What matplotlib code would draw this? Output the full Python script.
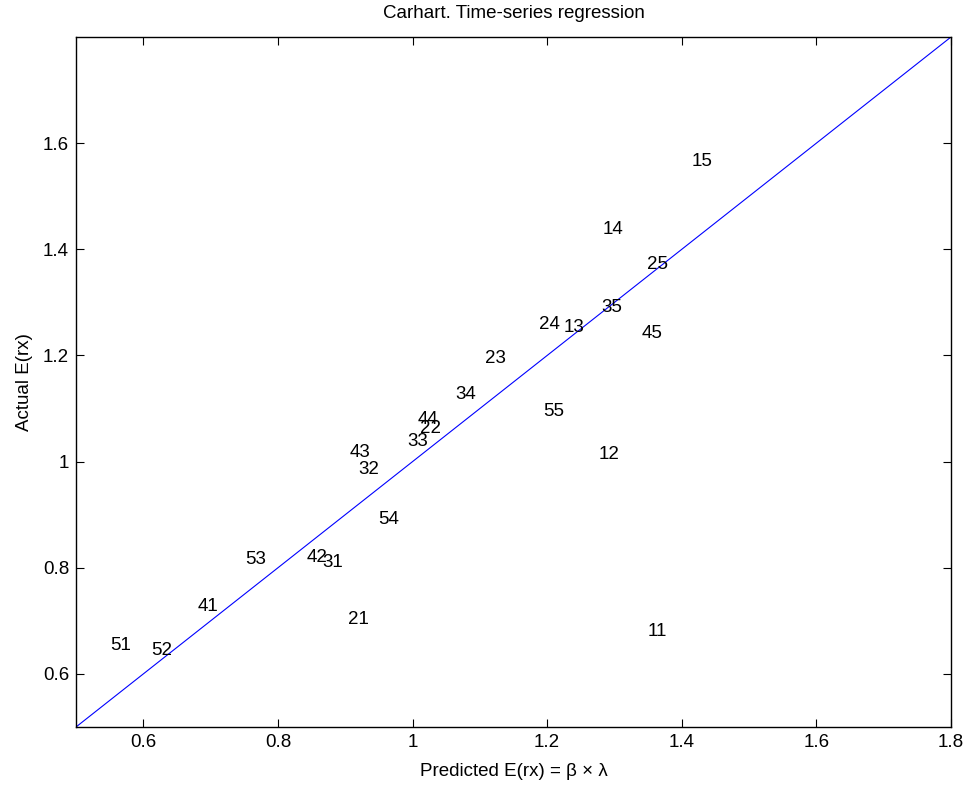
import matplotlib
matplotlib.use("Agg")
import matplotlib.pyplot as plt

plt.rcParams['font.family'] = ['Liberation Sans', 'DejaVu Sans']

# Portfolio labels (size/momentum quintile pairs) with predicted vs actual mean excess returns
labels = ['11', '12', '13', '14', '15',
          '21', '22', '23', '24', '25',
          '31', '32', '33', '34', '35',
          '41', '42', '43', '44', '45',
          '51', '52', '53', '54', '55']
predicted = [1.350, 1.277, 1.224, 1.282, 1.415,
             0.904, 1.011, 1.108, 1.188, 1.348,
             0.866, 0.920, 0.992, 1.063, 1.280,
             0.680, 0.843, 0.906, 1.007, 1.341,
             0.551, 0.611, 0.751, 0.949, 1.194]
actual = [0.683, 1.017, 1.257, 1.442, 1.570,
          0.706, 1.066, 1.198, 1.262, 1.375,
          0.813, 0.989, 1.042, 1.130, 1.294,
          0.730, 0.823, 1.021, 1.083, 1.245,
          0.657, 0.647, 0.819, 0.894, 1.098]

x_limits = [0.5, 1.8]
y_limits = [0.5, 1.8]
x_ticks = [0.6, 0.8, 1.0, 1.2, 1.4, 1.6, 1.8]
x_ticklabels = ['0.6', '0.8', '1', '1.2', '1.4', '1.6', '1.8']
y_ticks = [0.6, 0.8, 1.0, 1.2, 1.4, 1.6]
y_ticklabels = ['0.6', '0.8', '1', '1.2', '1.4', '1.6']

FS = 13.5

fig = plt.figure(figsize=(9.69, 7.86), dpi=100)
ax = fig.add_axes([76 / 969, (786 - 727) / 786, 875 / 969, 690 / 786])

for lab, px, py in zip(labels, predicted, actual):
    ax.text(px, py, lab, ha='left', va='center_baseline', fontsize=FS, color='black')

# 45-degree reference line
ax.plot(x_limits, y_limits, color='blue', linewidth=0.8)

ax.set_xlim(x_limits)
ax.set_ylim(y_limits)
ax.set_xticks(x_ticks)
ax.set_xticklabels(x_ticklabels)
ax.set_yticks(y_ticks)
ax.set_yticklabels(y_ticklabels)
ax.tick_params(direction='in', length=6, width=0.8, top=True, right=True,
               labelsize=FS, pad=5)
for s in ax.spines.values():
    s.set_linewidth(1.0)

ax.set_title('Carhart. Time-series regression', fontsize=FS, pad=14)
ax.set_xlabel('Predicted E(rx) = \u03b2 \u00d7 \u03bb', fontsize=FS, labelpad=9)
ax.set_ylabel('Actual E(rx)', fontsize=FS, labelpad=7)

fig.savefig('out.png', dpi=100)
